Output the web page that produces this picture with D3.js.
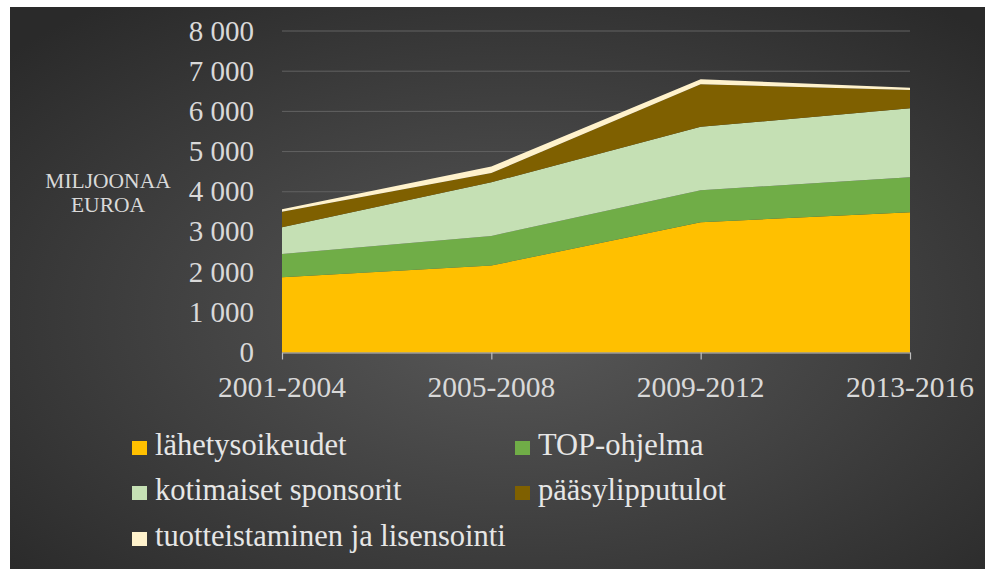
<!DOCTYPE html>
<html lang="fi">
<head>
<meta charset="UTF-8">
<title>Olympiatulot</title>
<script src="https://d3js.org/d3.v7.min.js"></script>
<style>
  html, body { margin: 0; padding: 0; background: #fff; }
  svg text { font-family: "Liberation Serif", "Times New Roman", serif; }
</style>
</head>
<body>
<div id="chart"></div>
<script>
// data (millions of euros)
const periods = ["2001-2004", "2005-2008", "2009-2012", "2013-2016"];
const seriesNames = ["lähetysoikeudet", "TOP-ohjelma", "kotimaiset sponsorit", "pääsylipputulot", "tuotteistaminen ja lisensointi"];
const lahetys = [1870, 2165, 3240, 3490];
const topOhjelma = [580, 735, 800, 870];
const sponsorit = [665, 1335, 1575, 1715];
const paasyliput = [390, 230, 1060, 455];
const tuotteistaminen = [60, 165, 125, 55];
const yTicks = [0, 1000, 2000, 3000, 4000, 5000, 6000, 7000, 8000];
const colors = ["#FFC000", "#70AD47", "#C5E0B4", "#7F6000", "#FFF2CC"];

const W = 985, H = 569;

const rows = periods.map((p, i) => ({
  period: p,
  [seriesNames[0]]: lahetys[i],
  [seriesNames[1]]: topOhjelma[i],
  [seriesNames[2]]: sponsorit[i],
  [seriesNames[3]]: paasyliput[i],
  [seriesNames[4]]: tuotteistaminen[i]
}));

const svg = d3.select("#chart").append("svg")
  .attr("width", W).attr("height", H);

// background
const grad = svg.append("defs").append("radialGradient")
  .attr("id", "bg").attr("cx", "52%").attr("cy", "55%").attr("r", "70%");
grad.append("stop").attr("offset", "0%").attr("stop-color", "#595959");
grad.append("stop").attr("offset", "100%").attr("stop-color", "#2a2a2a");
svg.append("rect").attr("x", 10).attr("y", 7)
  .attr("width", W - 10).attr("height", H - 7)
  .attr("fill", "url(#bg)");

const x = d3.scalePoint().domain(periods).range([282, 910]);
const y = d3.scaleLinear().domain([0, 8000]).range([352.5, 31]);

// gridlines
svg.append("g").selectAll("line")
  .data(yTicks.filter(d => d > 0)).join("line")
  .attr("x1", x.range()[0]).attr("x2", x.range()[1])
  .attr("y1", d => y(d)).attr("y2", d => y(d))
  .attr("stroke", "#626262").attr("stroke-width", 1);

// stacked areas
const stack = d3.stack().keys(seriesNames);
const layers = stack(rows);
const area = d3.area()
  .x(d => x(d.data.period))
  .y0(d => y(d[0]))
  .y1(d => y(d[1]));

svg.append("g").selectAll("path")
  .data(layers).join("path")
  .attr("d", area)
  .attr("fill", (d, i) => colors[i]);

// x axis
const xAxis = svg.append("g")
  .attr("transform", `translate(0,${y(0)})`)
  .call(d3.axisBottom(x).tickSize(7).tickSizeOuter(0).tickFormat(""));
xAxis.select(".domain").attr("stroke", "#bfbfbf").attr("stroke-width", 1.2);
xAxis.selectAll(".tick line").attr("stroke", "#bfbfbf").attr("stroke-width", 1.2);

function label(g, tx, ty, txt, size, anchor, fill) {
  return g.append("text")
    .attr("x", tx).attr("y", ty)
    .attr("text-anchor", anchor)
    .attr("font-size", size)
    .attr("fill", fill)
    .text(txt);
}

const yl = svg.append("g");
yTicks.forEach(t => label(yl, 254, y(t) + 9.5, d3.format(",")(t).replace(/,/g, " "), 29, "end", "#d9d9d9"));

const xl = svg.append("g");
periods.forEach(p => label(xl, x(p), 397, p, 29.5, "middle", "#d9d9d9"));

// unit label
label(svg, 108, 188, "MILJOONAA", 21.5, "middle", "#d9d9d9");
label(svg, 108, 212, "EUROA", 21.5, "middle", "#d9d9d9");

// legend
const legendPos = [[132, 455], [515, 455], [132, 500], [515, 500], [132, 546]];
const lg = svg.append("g");
seriesNames.forEach((name, i) => {
  const [lx, ly] = legendPos[i];
  lg.append("rect").attr("x", lx).attr("y", ly - 14)
    .attr("width", 15).attr("height", 14).attr("fill", colors[i]);
  label(lg, lx + 23, ly, name, 30.5, "start", "#e6e6e6");
});
</script>
</body>
</html>
